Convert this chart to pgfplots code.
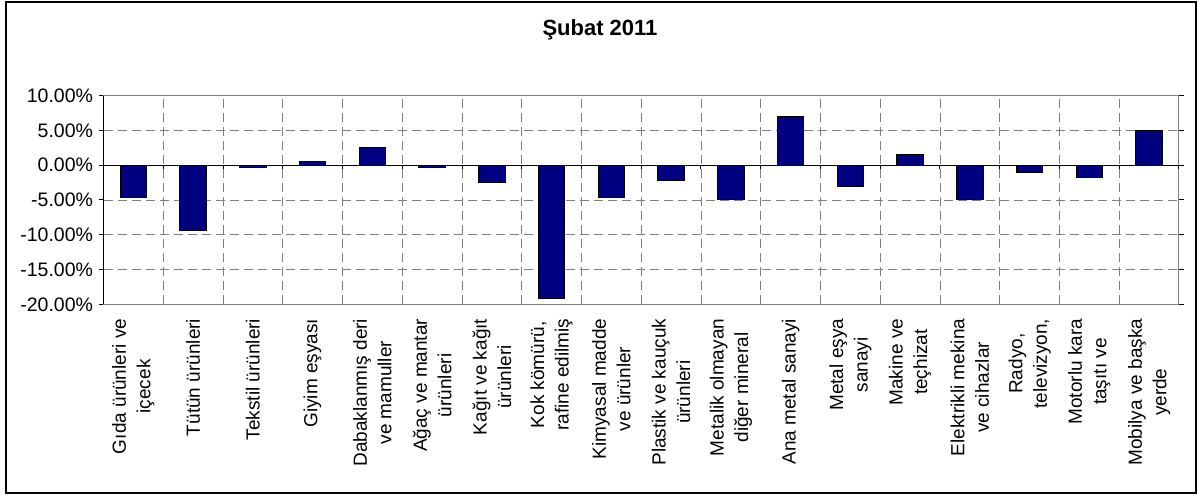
\documentclass[border=0pt]{standalone}
\usepackage{pgfplots}
\pgfplotsset{compat=1.18}
\usepackage{fontspec}
\setmainfont{Liberation Sans}
\definecolor{barblue}{RGB}{0,0,128}
\definecolor{gridgray}{RGB}{128,128,128}
\begin{document}
\begin{tikzpicture}
\useasboundingbox (0,0) rectangle (1198bp,495bp);
\draw[black, line width=1.2bp] (6bp,2bp) rectangle (1196bp,493bp);
\node[font=\fontsize{22bp}{26bp}\selectfont\bfseries] at (600bp,465bp) {Şubat 2011};
\begin{axis}[
  at={(103.5bp,190.7bp)}, anchor=south west,
  scale only axis, width=1075.5bp, height=208.6bp,
  xmin=0.5, xmax=18.5, ymin=-20, ymax=10,
  ytick={-20,-15,...,10},
  xtick={1,...,18},
  xticklabels={
    {Gıda ürünleri ve\\içecek},
    {Tütün ürünleri},
    {Tekstil ürünleri},
    {Giyim eşyası},
    {Dabaklanmış deri\\ve mamuller},
    {Ağaç ve mantar\\ürünleri},
    {Kağıt ve kağıt\\ürünleri},
    {Kok kömürü,\\rafine edilmiş},
    {Kimyasal madde\\ve ürünler},
    {Plastik ve kauçuk\\ürünleri},
    {Metalik olmayan\\diğer mineral},
    {Ana metal sanayi},
    {Metal eşya\\sanayi},
    {Makine ve\\teçhizat},
    {Elektrikli mekina\\ve cihazlar},
    {Radyo,\\televizyon,},
    {Motorlu kara\\taşıtı ve},
    {Mobilya ve başka\\yerde}
  },
  minor xtick={1.5,2.5,...,17.5},
  xminorgrids, ymajorgrids,
  grid style={gridgray, line width=0.8bp, dash pattern=on 9bp off 5bp},
  minor grid style={gridgray, line width=0.8bp, dash pattern=on 9bp off 5bp},
  axis line style={gridgray, line width=1bp},
  xtick style={draw=none},
  minor x tick style={draw=none},
  ytick style={black, line width=1bp},
  tick align=outside, major tick length=5bp,
  /pgf/number format/assume math mode=true,
  yticklabel={\pgfmathprintnumber[fixed,fixed zerofill,precision=2]{\tick}\%},
  yticklabel style={font=\fontsize{19.5bp}{23bp}\selectfont, xshift=-2bp},
  xticklabel style={font=\fontsize{19bp}{24.5bp}\selectfont, rotate=90, anchor=east, align=center, xshift=-6bp},
  ybar, bar width=26.7bp,
  clip=false,
]
\addplot[fill=barblue, draw=black, line width=1bp] coordinates {
(1,-4.7) (2,-9.4) (3,-0.3) (4,0.6) (5,2.5) (6,-0.3) (7,-2.5) (8,-19.2) (9,-4.7)
(10,-2.2) (11,-4.95) (12,6.95) (13,-3.0) (14,1.5) (15,-4.95) (16,-1.0) (17,-1.8) (18,5.0)
};
\draw[black, line width=1bp] (axis cs:0.5,0) -- (axis cs:18.5,0);
\draw[black, line width=1.2bp] (rel axis cs:0,0) -- (rel axis cs:0,1);
\pgfplotsinvokeforeach{0.5,1.5,...,18.5}{
  \draw[black, line width=1bp] (axis cs:#1,0) -- ([yshift=-4bp]axis cs:#1,0);
}
\end{axis}
\end{tikzpicture}
\end{document}
